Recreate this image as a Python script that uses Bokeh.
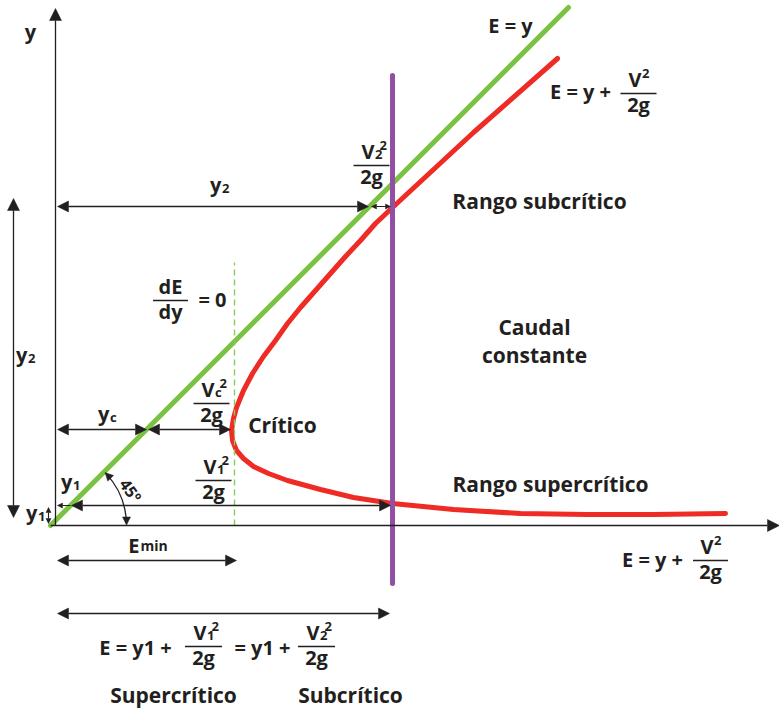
import math
from bokeh.plotting import figure
from bokeh.models import Range1d, Arrow, NormalHead
from bokeh.core.properties import value
from bokeh.embed import file_html
from bokeh.resources import INLINE

# ---------------- data ----------------
# specific-energy curve E = y + V^2/2g (constant discharge), schematic units
curve_E = [502, 418, 337, 320, 305, 290, 275, 260, 245, 232, 220, 208, 197, 188,
           181, 178, 176, 177, 181, 188, 198, 213, 232, 265, 298, 337, 398, 465,
           532, 598, 670]
curve_y = [467, 393, 318, 302, 285, 269, 252, 235, 218, 202, 185, 169, 152, 135,
           118, 107, 95, 85, 75, 67, 59, 52, 45, 36, 28, 22, 16, 12,
           11, 11, 12]
# line E = y (45 degrees)
line_E = [-5, 513]
line_y = [0, 518]
# characteristic depths / energies
Y1, Y2, YC = 20, 319, 96
E0 = 337          # energy of the two alternate depths
E_MIN = 179       # minimum specific energy
purple_y = [-58, 450]
dash_y = [0, 263]

INK = "#231f20"
GREEN = "#7cc242"
RED = "#ee2b24"
PURPLE = "#9150a3"
FONT = "Open Sans"
LIFT = 8.5   # browser baseline correction

p = figure(width=779, height=710, x_range=Range1d(-55, 724), y_range=Range1d(-185, 525),
           x_axis_type=None, y_axis_type=None, output_backend="svg",
           toolbar_location=None, min_border=0)
p.outline_line_color = None
p.grid.visible = False


def green_E(y):
    return line_E[0] + (y - line_y[0]) * (line_E[1] - line_E[0]) / (line_y[1] - line_y[0])


def T(x, y, s, size=20, align="center", base="alphabetic", angle=0):
    p.text(x=[x], y=[y + (LIFT if base == "alphabetic" else 0)], text=[s],
           text_font=value(FONT), text_font_style="bold",
           text_font_size=f"{size}px", text_color=INK, text_align=align,
           text_baseline=base, angle=angle)


def SYM(xj, yb, main, sub=None, size=20, subsize=13):
    T(xj, yb, main, size, "right")
    if sub:
        T(xj + 0.5, yb - 4, sub, subsize, "left")


def FRAC(xc, yl, num, sub=None, sup=None, den="2g", w=36):
    p.segment(x0=[xc - w / 2], y0=[yl], x1=[xc + w / 2], y1=[yl], line_color=INK, line_width=1.3)
    if sub is None and sup is None:
        T(xc, yl + 6, num)
    else:
        j = xc + 3
        T(j, yl + 6, num, align="right")
        if sub:
            T(j + 0.5, yl + 3, sub, 13, "left")
        if sup:
            T(j + (5 if sub else 0.5), yl + 12, sup, 13, "left")
    T(xc, yl - 19.5, den)


def head(s):
    return NormalHead(size=s, fill_color=INK, line_color=INK, line_width=0.5)


def ARR(x0, y0, x1, y1, s0=None, s1=11, lw=1.3):
    p.add_layout(Arrow(x_start=x0, y_start=y0, x_end=x1, y_end=y1,
                       start=head(s0) if s0 else None, end=head(s1) if s1 else None,
                       line_color=INK, line_width=lw))


# ---------------- curves ----------------
p.line(line_E, line_y, line_color=GREEN, line_width=5, line_cap="round")
p.line(curve_E, curve_y, line_color=RED, line_width=5, line_cap="round", line_join="round")
p.line([E_MIN, E_MIN], dash_y, line_color="#8ccb5a", line_width=1.4, line_dash="6 4")
p.line([E0, E0], purple_y, line_color=PURPLE, line_width=5, line_cap="round")

# ---------------- axes ----------------
ARR(0, 0, 0, 517, s1=12)
ARR(-5, 0, 724, 0, s1=12)
T(-25, 486, "y")
T(597, -42, "E = y +")
FRAC(655, -35, "V", sup="2", w=35)

# ---------------- dimension arrows ----------------
g2 = green_E(Y2)
ARR(2, Y2, g2 - 1, Y2, s0=11, s1=11)
ARR(g2 + 2, Y2, E0 - 2, Y2, s0=5, s1=5, lw=1.1)
gc = green_E(YC)
ARR(2, YC, gc, YC, s0=11, s1=11)
ARR(gc + 2, YC, E_MIN - 4, YC, s0=11, s1=11)
g1 = green_E(Y1)
ARR(g1, Y1, 2, Y1, s1=5, lw=1.1)
ARR(g1 + 1, Y1, E0 - 2, Y1, s0=11, s1=11)
ARR(-7, 2, -7, Y1 - 2, s0=5, s1=5, lw=1.1)
ARR(-42, 8, -42, Y2 + 8, s0=12, s1=12)
ARR(2, -35, E_MIN + 2, -35, s0=11, s1=11)
ARR(2, -88, E0 - 3, -88, s0=11, s1=11)

# 45 degree arc
R = 76
p.arc(x=[line_E[0]], y=[0], radius=R, start_angle=0.02, end_angle=0.76,
      line_color=INK, line_width=1.3)
ARR(line_E[0] + R, 8, line_E[0] + R, 0.5, s1=8, lw=0.1)
a = 0.77
tx, ty = line_E[0] + R * math.cos(a), R * math.sin(a)
ARR(tx + 7 * math.sin(a), ty - 7 * math.cos(a), tx, ty, s1=8, lw=0.1)
T(75, 35, "45º", 16, base="middle", angle=-0.94)

# ---------------- labels ----------------
T(455, 492, "E = y")
T(525, 426, "E = y +")
FRAC(583, 432, "V", sup="2")

SYM(166, 333, "y", "2")
FRAC(316, 360, "V", sub="2", sup="2")
T(484, 316, "Rango subcrítico", 21)

FRAC(115, 225, "dE", den="dy", w=35)
T(157, 218, "= 0")

T(479, 190, "Caudal", 21)
T(479, 162, "constante", 21)

SYM(54, 104, "y", "c")
FRAC(156, 122, "V", sub="c", sup="2")
T(227, 92, "Crítico", 21)

SYM(17, 36, "y", "1")
FRAC(158, 45, "V", sub="1", sup="2")
T(495, 33, "Rango supercrítico", 21)

SYM(-18, 5, "y", "1")
SYM(-28, 163, "y", "2")

T(84, -28, "E", align="right")
T(85, -28, "min", 14, align="left")

T(80, -130, "E = y1 +")
FRAC(148, -121, "V", sub="1", sup="2", w=37)
T(207, -130, "= y1 +")
FRAC(261, -121, "V", sub="2", sup="2", w=37)

T(118, -178, "Supercrítico", 21)
T(295, -178, "Subcrítico", 21)

open("out.html", "w").write(file_html(p, INLINE))
